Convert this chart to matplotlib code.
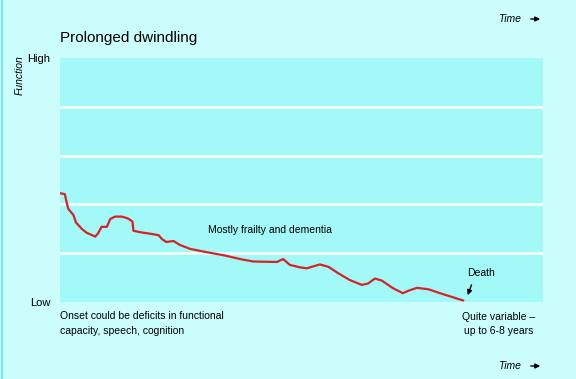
import matplotlib.pyplot as plt

plt.rcParams['font.family'] = ['Liberation Sans', 'DejaVu Sans']

# trayectoria de la funcion (x = tiempo 0-100, y = bandas 0-5)
tiempo = [0, 1.0, 1.4, 1.7, 2.8, 3.3, 4.5, 5.5, 7.3, 7.9, 8.6, 9.7, 10.4, 11.4,
          12.8, 14.1, 15.0, 15.2, 16.6, 18.6, 20.4, 21.1, 22.0, 23.5, 24.8, 26.9,
          30.4, 33.8, 37.3, 40.0, 44.9, 46.2, 47.6, 49.7, 51.1, 53.8, 55.6, 57.6,
          60.0, 62.5, 63.8, 65.2, 66.6, 69.0, 71.0, 72.1, 73.9, 76.3, 78.7, 83.5]
funcion = [2.23, 2.21, 2.03, 1.91, 1.78, 1.63, 1.50, 1.42, 1.34, 1.41, 1.54, 1.54,
           1.70, 1.75, 1.75, 1.71, 1.65, 1.46, 1.43, 1.40, 1.37, 1.29, 1.23, 1.25,
           1.17, 1.09, 1.02, 0.96, 0.88, 0.83, 0.82, 0.88, 0.76, 0.71, 0.69, 0.77,
           0.72, 0.59, 0.45, 0.35, 0.38, 0.48, 0.44, 0.28, 0.18, 0.23, 0.29, 0.26,
           0.18, 0.03]
etiquetas_y = ['Low', 'High']

W, H = 576, 379
fig = plt.figure(figsize=(W / 100, H / 100), dpi=100, facecolor='#ccfdfd')
ax = fig.add_axes([60 / W, (H - 302) / H, 483 / W, 244 / H])
ax.set_facecolor('#a3f8f8')
ax.set_xlim(0, 100)
ax.set_ylim(0, 5)
for s in ax.spines.values():
    s.set_visible(False)
ax.set_xticks([])
ax.set_yticks([0, 5], etiquetas_y, fontsize=8)
ax.tick_params(axis='y', length=0, pad=7)
for yy in [1, 2, 3, 4]:
    ax.axhline(yy, color='white', lw=1.8)

ax.plot(tiempo, funcion, color='#d42424', lw=1.6, solid_capstyle='round',
        solid_joinstyle='round')

ax.text(30.6, 1.48, 'Mostly frailty and dementia', fontsize=7.5, va='center')
ax.text(84.3, 0.59, 'Death', fontsize=7.5, va='center')
ax.annotate('', xy=(84.4, 0.14), xytext=(85.2, 0.35),
            arrowprops=dict(arrowstyle='-|>', color='black', lw=1, mutation_scale=7,
                            shrinkA=0, shrinkB=0))

# textos de la figura (coordenadas en pixeles)
def px(x, y):
    return x / W, 1 - y / H

fig.text(*px(60, 38), 'Prolonged dwindling', fontsize=11, va='center')
fig.text(*px(20, 75), 'Function', fontsize=7.5, style='italic', rotation=90,
         ha='center', va='center')
fig.text(*px(60, 316), 'Onset could be deficits in functional', fontsize=7.5, va='center')
fig.text(*px(60, 331), 'capacity, speech, cognition', fontsize=7.5, va='center')
fig.text(*px(499, 317), 'Quite variable \u2013', fontsize=7.5, ha='center', va='center')
fig.text(*px(499, 331), 'up to 6-8 years', fontsize=7.5, ha='center', va='center')

for yt in [19, 366]:
    fig.text(*px(521, yt), 'Time', fontsize=7.5, style='italic', ha='right', va='center')
    fig.patches.append(plt.matplotlib.patches.FancyArrowPatch(
        px(528, yt), px(543, yt), transform=fig.transFigure, arrowstyle='-|>',
        mutation_scale=7, color='black', lw=1))

fig.add_artist(plt.Line2D([2 / W, 2 / W], [0, 1], color='#7ee6e6', lw=1.5))

fig.savefig('out.png', dpi=100, facecolor=fig.get_facecolor())
